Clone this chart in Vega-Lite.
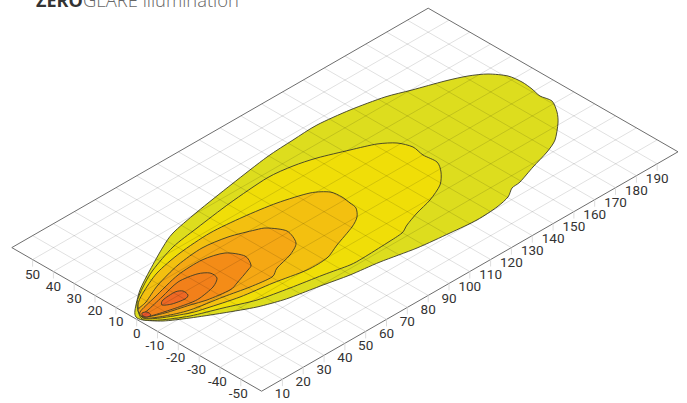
{"$schema":"https://vega.github.io/schema/vega-lite/v6.json","width":687,"height":403,"autosize":"none","padding":0,"background":"white","view":{"stroke":null},
"datasets":{
"contours":[
{"l":1,"i":0,"x":0,"y":3},{"l":1,"i":1,"x":-1,"y":10},{"l":1,"i":2,"x":4,"y":30},{"l":1,"i":3,"x":14,"y":50},{"l":1,"i":4,"x":27,"y":73},{"l":1,"i":5,"x":37,"y":87},{"l":1,"i":6,"x":61,"y":108},{"l":1,"i":7,"x":96,"y":136},{"l":1,"i":8,"x":131,"y":163},{"l":1,"i":9,"x":157,"y":180},{"l":1,"i":10,"x":181,"y":195},{"l":1,"i":11,"x":214,"y":210},{"l":1,"i":12,"x":249,"y":223},{"l":1,"i":13,"x":276,"y":230},{"l":1,"i":14,"x":309,"y":239},{"l":1,"i":15,"x":332,"y":244},{"l":1,"i":16,"x":352,"y":246},{"l":1,"i":17,"x":372,"y":244},{"l":1,"i":18,"x":386,"y":238},{"l":1,"i":19,"x":396,"y":231},{"l":1,"i":20,"x":404,"y":224},{"l":1,"i":21,"x":416,"y":219},{"l":1,"i":22,"x":421,"y":208},{"l":1,"i":23,"x":422,"y":197},{"l":1,"i":24,"x":419,"y":180},{"l":1,"i":25,"x":411,"y":168},{"l":1,"i":26,"x":397,"y":153},{"l":1,"i":27,"x":384,"y":138},{"l":1,"i":28,"x":376,"y":132},{"l":1,"i":29,"x":372,"y":123},{"l":1,"i":30,"x":361,"y":113},{"l":1,"i":31,"x":341,"y":100},{"l":1,"i":32,"x":314,"y":87},{"l":1,"i":33,"x":281,"y":72},{"l":1,"i":34,"x":244,"y":58},{"l":1,"i":35,"x":214,"y":45},{"l":1,"i":36,"x":187,"y":35},{"l":1,"i":37,"x":161,"y":25},{"l":1,"i":38,"x":147,"y":20},{"l":1,"i":39,"x":121,"y":13},{"l":1,"i":40,"x":87,"y":7},{"l":1,"i":41,"x":54,"y":2},{"l":1,"i":42,"x":27,"y":-1},{"l":1,"i":43,"x":7,"y":0},
{"l":2,"i":0,"x":1,"y":17},{"l":2,"i":1,"x":7,"y":33},{"l":2,"i":2,"x":17,"y":50},{"l":2,"i":3,"x":37,"y":73},{"l":2,"i":4,"x":61,"y":92},{"l":2,"i":5,"x":94,"y":117},{"l":2,"i":6,"x":131,"y":142},{"l":2,"i":7,"x":157,"y":154},{"l":2,"i":8,"x":181,"y":162},{"l":2,"i":9,"x":214,"y":170},{"l":2,"i":10,"x":241,"y":176},{"l":2,"i":11,"x":261,"y":177},{"l":2,"i":12,"x":277,"y":173},{"l":2,"i":13,"x":287,"y":165},{"l":2,"i":14,"x":301,"y":158},{"l":2,"i":15,"x":305,"y":148},{"l":2,"i":16,"x":304,"y":135},{"l":2,"i":17,"x":294,"y":120},{"l":2,"i":18,"x":281,"y":107},{"l":2,"i":19,"x":271,"y":95},{"l":2,"i":20,"x":266,"y":87},{"l":2,"i":21,"x":251,"y":77},{"l":2,"i":22,"x":227,"y":62},{"l":2,"i":23,"x":214,"y":55},{"l":2,"i":24,"x":187,"y":45},{"l":2,"i":25,"x":154,"y":32},{"l":2,"i":26,"x":121,"y":20},{"l":2,"i":27,"x":87,"y":12},{"l":2,"i":28,"x":54,"y":4},{"l":2,"i":29,"x":24,"y":0},{"l":2,"i":30,"x":6,"y":1},
{"l":3,"i":0,"x":2,"y":15},{"l":3,"i":1,"x":7,"y":27},{"l":3,"i":2,"x":21,"y":47},{"l":3,"i":3,"x":44,"y":67},{"l":3,"i":4,"x":74,"y":87},{"l":3,"i":5,"x":107,"y":103},{"l":3,"i":6,"x":141,"y":117},{"l":3,"i":7,"x":174,"y":127},{"l":3,"i":8,"x":194,"y":128},{"l":3,"i":9,"x":206,"y":123},{"l":3,"i":10,"x":214,"y":117},{"l":3,"i":11,"x":220,"y":112},{"l":3,"i":12,"x":221,"y":103},{"l":3,"i":13,"x":216,"y":93},{"l":3,"i":14,"x":201,"y":75},{"l":3,"i":15,"x":191,"y":62},{"l":3,"i":16,"x":171,"y":50},{"l":3,"i":17,"x":137,"y":37},{"l":3,"i":18,"x":104,"y":23},{"l":3,"i":19,"x":71,"y":12},{"l":3,"i":20,"x":54,"y":7},{"l":3,"i":21,"x":24,"y":2},{"l":3,"i":22,"x":7,"y":2},
{"l":4,"i":0,"x":2,"y":10},{"l":4,"i":1,"x":10,"y":18},{"l":4,"i":2,"x":22,"y":35},{"l":4,"i":3,"x":42,"y":55},{"l":4,"i":4,"x":66,"y":72},{"l":4,"i":5,"x":92,"y":83},{"l":4,"i":6,"x":119,"y":90},{"l":4,"i":7,"x":131,"y":92},{"l":4,"i":8,"x":151,"y":89},{"l":4,"i":9,"x":160,"y":77},{"l":4,"i":10,"x":154,"y":65},{"l":4,"i":11,"x":141,"y":52},{"l":4,"i":12,"x":136,"y":43},{"l":4,"i":13,"x":114,"y":33},{"l":4,"i":14,"x":87,"y":23},{"l":4,"i":15,"x":54,"y":10},{"l":4,"i":16,"x":29,"y":4},{"l":4,"i":17,"x":9,"y":2},
{"l":5,"i":0,"x":4,"y":8},{"l":5,"i":1,"x":19,"y":23},{"l":5,"i":2,"x":42,"y":45},{"l":5,"i":3,"x":66,"y":60},{"l":5,"i":4,"x":89,"y":67},{"l":5,"i":5,"x":109,"y":64},{"l":5,"i":6,"x":115,"y":55},{"l":5,"i":7,"x":112,"y":50},{"l":5,"i":8,"x":101,"y":37},{"l":5,"i":9,"x":94,"y":30},{"l":5,"i":10,"x":71,"y":20},{"l":5,"i":11,"x":54,"y":15},{"l":5,"i":12,"x":29,"y":7},{"l":5,"i":13,"x":9,"y":3},
{"l":6,"i":0,"x":7,"y":6},{"l":6,"i":1,"x":12,"y":10},{"l":6,"i":2,"x":26,"y":23},{"l":6,"i":3,"x":42,"y":38},{"l":6,"i":4,"x":61,"y":46},{"l":6,"i":5,"x":74,"y":47},{"l":6,"i":6,"x":81,"y":42},{"l":6,"i":7,"x":77,"y":33},{"l":6,"i":8,"x":64,"y":22},{"l":6,"i":9,"x":54,"y":17},{"l":6,"i":10,"x":34,"y":10},{"l":6,"i":11,"x":14,"y":4},
{"l":7,"i":0,"x":52,"y":25},{"l":7,"i":1,"x":47,"y":29},{"l":7,"i":2,"x":39,"y":28},{"l":7,"i":3,"x":27,"y":20},{"l":7,"i":4,"x":26,"y":15},{"l":7,"i":5,"x":36,"y":16},{"l":7,"i":6,"x":49,"y":21},
{"l":8,"i":0,"x":6,"y":7},{"l":8,"i":1,"x":11,"y":8},{"l":8,"i":2,"x":15,"y":5},{"l":8,"i":3,"x":11,"y":3},{"l":8,"i":4,"x":7,"y":4}
],
"grid":[
{"x":146.4,"y":-59.2,"x2":-103.4,"y2":84.4},{"x":167.2,"y":-47.3,"x2":-82.6,"y2":96.3},{"x":188.1,"y":-35.3,"x2":-61.7,"y2":108.3},{"x":208.9,"y":-23.3,"x2":-40.9,"y2":120.3},{"x":229.7,"y":-11.4,"x2":-20.1,"y2":132.3},{"x":250.5,"y":0.6,"x2":0.7,"y2":144.2},{"x":271.3,"y":12.6,"x2":21.5,"y2":156.2},{"x":292.2,"y":24.6,"x2":42.4,"y2":168.2},{"x":313,"y":36.5,"x2":63.2,"y2":180.1},{"x":333.8,"y":48.5,"x2":84,"y2":192.1},{"x":354.6,"y":60.5,"x2":104.8,"y2":204.1},{"x":375.4,"y":72.4,"x2":125.6,"y2":216},{"x":396.3,"y":84.4,"x2":146.5,"y2":228},{"x":417.1,"y":96.4,"x2":167.3,"y2":240},{"x":437.9,"y":108.4,"x2":188.1,"y2":252},{"x":458.7,"y":120.3,"x2":208.9,"y2":263.9},{"x":479.5,"y":132.3,"x2":229.7,"y2":275.9},{"x":500.4,"y":144.3,"x2":250.6,"y2":287.9},{"x":521.2,"y":156.2,"x2":271.4,"y2":299.8},
{"x":104.8,"y":-59.3,"x2":521.2,"y2":180.1},{"x":84,"y":-47.3,"x2":500.4,"y2":192.1},{"x":63.2,"y":-35.3,"x2":479.6,"y2":204.1},{"x":42.3,"y":-23.3,"x2":458.7,"y2":216.1},{"x":21.5,"y":-11.4,"x2":437.9,"y2":228},{"x":0.7,"y":0.6,"x2":417.1,"y2":240},{"x":-20.1,"y":12.6,"x2":396.3,"y2":252},{"x":-41,"y":24.5,"x2":375.4,"y2":263.9},{"x":-61.8,"y":36.5,"x2":354.6,"y2":275.9},{"x":-82.6,"y":48.5,"x2":333.8,"y2":287.9},{"x":-103.4,"y":60.4,"x2":313,"y2":299.8}
],
"border":[
{"x":125.6,"y":-71.2,"x2":542,"y2":168.2},{"x":542,"y":168.2,"x2":292.2,"y2":311.8},{"x":292.2,"y":311.8,"x2":-124.2,"y2":72.4},{"x":-124.2,"y":72.4,"x2":125.6,"y2":-71.2}
],
"ticks":[
{"t":"10","x":146.4,"y":-59.2,"y2":-66.2,"lx":146.4},{"t":"20","x":167.2,"y":-47.3,"y2":-54.3,"lx":167.2},{"t":"30","x":188.1,"y":-35.3,"y2":-42.3,"lx":188.1},{"t":"40","x":208.9,"y":-23.3,"y2":-30.3,"lx":208.9},{"t":"50","x":229.7,"y":-11.4,"y2":-18.4,"lx":229.7},{"t":"60","x":250.5,"y":0.6,"y2":-6.4,"lx":250.5},{"t":"70","x":271.3,"y":12.6,"y2":5.6,"lx":271.3},{"t":"80","x":292.2,"y":24.6,"y2":17.6,"lx":292.2},{"t":"90","x":313,"y":36.5,"y2":29.5,"lx":313},{"t":"100","x":333.8,"y":48.5,"y2":41.5,"lx":333.8},{"t":"110","x":354.6,"y":60.5,"y2":53.5,"lx":354.6},{"t":"120","x":375.4,"y":72.4,"y2":65.4,"lx":375.4},{"t":"130","x":396.3,"y":84.4,"y2":77.4,"lx":396.3},{"t":"140","x":417.1,"y":96.4,"y2":89.4,"lx":417.1},{"t":"150","x":437.9,"y":108.4,"y2":101.4,"lx":437.9},{"t":"160","x":458.7,"y":120.3,"y2":113.3,"lx":458.7},{"t":"170","x":479.5,"y":132.3,"y2":125.3,"lx":479.5},{"t":"180","x":500.4,"y":144.3,"y2":137.3,"lx":500.4},{"t":"190","x":521.2,"y":156.2,"y2":149.2,"lx":521.2},
{"t":"-50","x":104.8,"y":-59.3,"y2":-66.3,"lx":102.3},{"t":"-40","x":84,"y":-47.3,"y2":-54.3,"lx":81.5},{"t":"-30","x":63.2,"y":-35.3,"y2":-42.3,"lx":60.7},{"t":"-20","x":42.3,"y":-23.3,"y2":-30.3,"lx":39.8},{"t":"-10","x":21.5,"y":-11.4,"y2":-18.4,"lx":19},{"t":"0","x":0.7,"y":0.6,"y2":-6.4,"lx":0.7},{"t":"10","x":-20.1,"y":12.6,"y2":5.6,"lx":-20.1},{"t":"20","x":-41,"y":24.5,"y2":17.5,"lx":-41},{"t":"30","x":-61.8,"y":36.5,"y2":29.5,"lx":-61.8},{"t":"40","x":-82.6,"y":48.5,"y2":41.5,"lx":-82.6},{"t":"50","x":-103.4,"y":60.4,"y2":53.4,"lx":-103.4}
],
"title":[{"t":"ZERO","x":-100,"y":313}]
,"title2":[{"t":"GLARE illumination","x":-53,"y":313}]
},
"encoding":{"x":{"field":"x","type":"quantitative","scale":{"domain":[-136,551],"nice":false,"zero":false},"axis":null},"y":{"field":"y","type":"quantitative","scale":{"domain":[-83,320],"nice":false,"zero":false},"axis":null}},
"layer":[
{"data":{"name":"contours"},"mark":{"type":"line","interpolate":"cardinal-closed","tension":0.2,"stroke":"#3c3c28","strokeWidth":0.9},"encoding":{"fill":{"field":"l","type":"nominal","legend":null,"scale":{"domain":[1,2,3,4,5,6,7,8],"range":["#dddd1e","#f0de08","#f3c010","#f5a814","#f48c17","#f2801a","#ee6824","#e8552c"]}},"order":{"field":"i","type":"quantitative"}}},
{"data":{"name":"grid"},"mark":{"type":"rule","stroke":"#000000","strokeOpacity":0.12,"strokeWidth":1},"encoding":{"x2":{"field":"x2"},"y2":{"field":"y2"}}},
{"data":{"name":"border"},"mark":{"type":"rule","stroke":"#6e6e6e","strokeWidth":1},"encoding":{"x2":{"field":"x2"},"y2":{"field":"y2"}}},
{"data":{"name":"ticks"},"mark":{"type":"rule","stroke":"#dddddd","strokeWidth":1},"encoding":{"y":{"field":"y2","type":"quantitative"},"y2":{"field":"y"}}},
{"data":{"name":"ticks"},"mark":{"type":"text","font":"Roboto","fontSize":13.5,"fill":"#333333","dy":15,"align":"center","baseline":"middle"},"encoding":{"x":{"field":"lx","type":"quantitative"},"text":{"field":"t"}}},
{"data":{"name":"title"},"mark":{"type":"text","font":"Open Sans","fontSize":18,"fontWeight":"bold","fill":"#333333","align":"left","baseline":"alphabetic"},"encoding":{"text":{"field":"t"}}},
{"data":{"name":"title2"},"mark":{"type":"text","font":"Open Sans","fontSize":18.4,"fontWeight":300,"fill":"#666666","align":"left","baseline":"alphabetic"},"encoding":{"text":{"field":"t"}}}
]}
